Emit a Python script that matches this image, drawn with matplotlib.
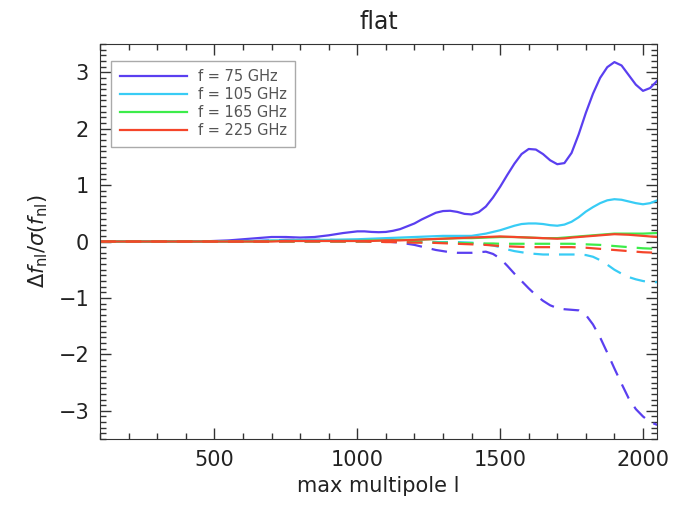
import numpy as np
import matplotlib
matplotlib.use("Agg")
import matplotlib.pyplot as plt
from matplotlib.ticker import MultipleLocator

# max multipole grid: step 50 up to 950, step 25 from 1000 on
ell = [100, 150, 200, 250, 300, 350, 400, 450, 500, 550,
       600, 650, 700, 750, 800, 850, 900, 950,
       1000, 1025, 1050, 1075, 1100, 1125, 1150, 1175, 1200, 1225,
       1250, 1275, 1300, 1325, 1350, 1375, 1400, 1425, 1450, 1475,
       1500, 1525, 1550, 1575, 1600, 1625, 1650, 1675, 1700, 1725,
       1750, 1775, 1800, 1825, 1850, 1875, 1900, 1925, 1950, 1975,
       2000, 2025, 2050]

# solid curves (positive shift)
f75_pos = [0, 0, 0, 0, 0, 0, 0, 0, 0.01, 0.02,
           0.04, 0.06, 0.08, 0.08, 0.07, 0.08, 0.11, 0.15,
           0.18, 0.18, 0.17, 0.165, 0.17, 0.19, 0.22, 0.27, 0.32, 0.39,
           0.45, 0.51, 0.54, 0.545, 0.525, 0.49, 0.48, 0.52, 0.62, 0.78,
           0.97, 1.18, 1.38, 1.55, 1.64, 1.63, 1.55, 1.44, 1.37, 1.39,
           1.57, 1.9, 2.28, 2.62, 2.9, 3.09, 3.18, 3.12, 2.95, 2.78,
           2.67, 2.72, 2.85]
f105_pos = [0, 0, 0, 0, 0, 0, 0, 0, 0, 0,
            0.01, 0.01, 0.02, 0.02, 0.03, 0.03, 0.03, 0.035,
            0.04, 0.045, 0.05, 0.055, 0.06, 0.065, 0.07, 0.075, 0.08, 0.085,
            0.09, 0.095, 0.1, 0.1, 0.1, 0.1, 0.1, 0.12, 0.14, 0.17,
            0.2, 0.24, 0.28, 0.31, 0.32, 0.32, 0.31, 0.29, 0.28, 0.3,
            0.35, 0.43, 0.53, 0.61, 0.68, 0.73, 0.75, 0.74, 0.71, 0.68,
            0.66, 0.68, 0.73]
f165_pos = [0, 0, 0, 0, 0, 0, 0, 0, 0, 0,
            0, 0, 0.01, 0.01, 0.01, 0.01, 0.01, 0.01,
            0.01, 0.015, 0.02, 0.02, 0.02, 0.025, 0.03, 0.03, 0.03, 0.035,
            0.04, 0.045, 0.05, 0.055, 0.06, 0.06, 0.06, 0.065, 0.07, 0.075,
            0.08, 0.08, 0.08, 0.075, 0.07, 0.065, 0.06, 0.06, 0.06, 0.07,
            0.08, 0.09, 0.1, 0.11, 0.12, 0.13, 0.14, 0.14, 0.14, 0.14,
            0.14, 0.145, 0.15]
f225_pos = [0, 0, 0, 0, 0, 0, 0, 0, 0, 0,
            0, 0, 0, 0.01, 0.01, 0.01, 0.01, 0.01,
            0.01, 0.01, 0.01, 0.015, 0.02, 0.02, 0.02, 0.025, 0.03, 0.035,
            0.04, 0.045, 0.05, 0.055, 0.06, 0.065, 0.07, 0.075, 0.08, 0.085,
            0.09, 0.085, 0.08, 0.075, 0.07, 0.065, 0.06, 0.055, 0.05, 0.055,
            0.07, 0.08, 0.09, 0.1, 0.11, 0.12, 0.13, 0.125, 0.12, 0.11,
            0.1, 0.09, 0.08]

# dashed curves (negative shift)
f75_neg = [0, 0, 0, 0, 0, 0, 0, 0, 0, 0,
           0, 0.01, 0.02, 0.03, 0.03, 0.03, 0.03, 0.02,
           0.02, 0.015, 0.01, 0.005, 0, -0.01, -0.02, -0.04, -0.06, -0.09,
           -0.12, -0.15, -0.17, -0.19, -0.2, -0.2, -0.2, -0.19, -0.18, -0.22,
           -0.3, -0.43, -0.57, -0.7, -0.83, -0.95, -1.05, -1.13, -1.18, -1.2,
           -1.21, -1.22, -1.3, -1.47, -1.7, -1.97, -2.25, -2.52, -2.78, -2.97,
           -3.1, -3.2, -3.25]
f105_neg = [0, 0, 0, 0, 0, 0, 0, 0, 0, 0,
            0, 0, 0, 0, 0, 0, 0, 0,
            0, 0, 0, 0, 0, 0, 0, 0, 0, 0,
            -0.01, -0.01, -0.01, -0.01, -0.01, -0.015, -0.02, -0.03, -0.05, -0.07,
            -0.1, -0.14, -0.17, -0.19, -0.21, -0.22, -0.23, -0.23, -0.23, -0.23,
            -0.23, -0.23, -0.24, -0.27, -0.33, -0.41, -0.5, -0.57, -0.63, -0.67,
            -0.7, -0.72, -0.72]
f165_neg = [0, 0, 0, 0, 0, 0, 0, 0, 0, 0,
            0, 0, 0, 0, 0, 0, 0, 0,
            0, 0, 0, 0, 0, -0.005, -0.01, -0.01, -0.01, -0.015,
            -0.015, -0.02, -0.02, -0.02, -0.025, -0.03, -0.03, -0.03, -0.035, -0.035,
            -0.04, -0.04, -0.04, -0.04, -0.04, -0.04, -0.04, -0.04, -0.04, -0.04,
            -0.04, -0.045, -0.05, -0.055, -0.06, -0.07, -0.08, -0.09, -0.1, -0.11,
            -0.12, -0.125, -0.13]
f225_neg = [0, 0, 0, 0, 0, 0, 0, 0, 0, 0,
            0, 0, 0, 0, 0, 0, 0, 0,
            0, 0, -0.005, -0.005, -0.01, -0.01, -0.01, -0.015, -0.02, -0.02,
            -0.02, -0.025, -0.03, -0.035, -0.04, -0.045, -0.05, -0.055, -0.06, -0.07,
            -0.08, -0.085, -0.09, -0.095, -0.1, -0.1, -0.1, -0.1, -0.1, -0.1,
            -0.1, -0.105, -0.11, -0.12, -0.13, -0.14, -0.15, -0.16, -0.17, -0.18,
            -0.19, -0.195, -0.2]

labels = ["f = 75 GHz", "f = 105 GHz", "f = 165 GHz", "f = 225 GHz"]
colors = ["#5a3ff0", "#38ccf5", "#3cec4a", "#f5452a"]
pos_list = [f75_pos, f105_pos, f165_pos, f225_pos]
neg_list = [f75_neg, f105_neg, f165_neg, f225_neg]

fig = plt.figure(figsize=(6.77, 5.09), dpi=100)
ax = fig.add_axes([0.148, 0.1375, 0.822, 0.776])

for pos, neg, c, lab in zip(pos_list, neg_list, colors, labels):
    ax.plot(ell, pos, color=c, lw=1.6, label=lab)
    ax.plot(ell, neg, color=c, lw=1.6, dashes=(7, 4.5))

ax.set_xlim(100, 2048)
ax.set_ylim(-3.5, 3.5)
ax.xaxis.set_major_locator(MultipleLocator(500))
ax.xaxis.set_minor_locator(MultipleLocator(100))
ax.yaxis.set_major_locator(MultipleLocator(1))
ax.yaxis.set_minor_locator(MultipleLocator(0.1))
ax.tick_params(which="both", direction="in", top=True, right=True,
               labelsize=15, labelcolor="#222222", color="#333333", pad=8)
ax.tick_params(which="major", length=8, width=1)
ax.tick_params(which="minor", length=4, width=1)
for s in ax.spines.values():
    s.set_color("#333333")

ax.set_title("flat", fontsize=17, color="#222222", pad=11)
ax.set_xlabel("max multipole l", fontsize=15, color="#222222", labelpad=4)
ax.set_ylabel(r"$\Delta f_{\rm nl}/\sigma(f_{\rm nl})$", fontsize=15,
              color="#222222", labelpad=6)

leg = ax.legend(loc="upper left", bbox_to_anchor=(0.019, 0.958),
                borderaxespad=0, fontsize=10.5, frameon=True, fancybox=False,
                edgecolor="#aaaaaa", framealpha=1, handlelength=4.6,
                handletextpad=0.75, labelspacing=0.2, borderpad=0.6)
leg.get_frame().set_linewidth(1)
for t in leg.get_texts():
    t.set_color("#555555")

fig.savefig("out.png", dpi=100)
